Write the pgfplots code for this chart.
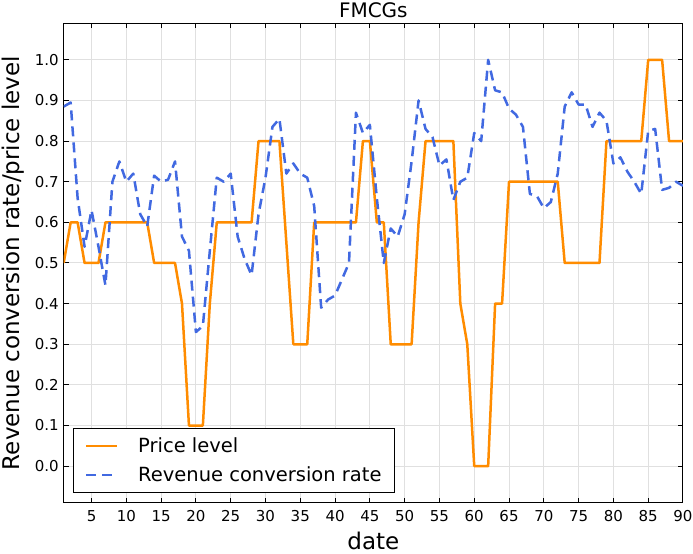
\documentclass[border=0pt]{standalone}
\usepackage{fontspec}
\setmainfont{DejaVu Sans}
\usepackage{pgfplots}
\usepackage{pgfplotstable}
\pgfplotsset{compat=1.18}
\definecolor{porange}{RGB}{255,140,0}
\definecolor{rblue}{RGB}{65,105,225}
\definecolor{gridc}{RGB}{224,224,224}

\pgfplotstableread{
x y
1 0.5
2 0.6
3 0.6
4 0.5
5 0.5
6 0.5
7 0.6
8 0.6
9 0.6
10 0.6
11 0.6
12 0.6
13 0.6
14 0.5
15 0.5
16 0.5
17 0.5
18 0.4
19 0.1
20 0.1
21 0.1
22 0.4
23 0.6
24 0.6
25 0.6
26 0.6
27 0.6
28 0.6
29 0.8
30 0.8
31 0.8
32 0.8
33 0.55
34 0.3
35 0.3
36 0.3
37 0.6
38 0.6
39 0.6
40 0.6
41 0.6
42 0.6
43 0.6
44 0.8
45 0.8
46 0.6
47 0.6
48 0.3
49 0.3
50 0.3
51 0.3
52 0.6
53 0.8
54 0.8
55 0.8
56 0.8
57 0.8
58 0.4
59 0.3
60 0.0
61 0.0
62 0.0
63 0.4
64 0.4
65 0.7
66 0.7
67 0.7
68 0.7
69 0.7
70 0.7
71 0.7
72 0.7
73 0.5
74 0.5
75 0.5
76 0.5
77 0.5
78 0.5
79 0.8
80 0.8
81 0.8
82 0.8
83 0.8
84 0.8
85 1.0
86 1.0
87 1.0
88 0.8
89 0.8
90 0.8
}\pricetable

\pgfplotstableread{
x y
1 0.885
2 0.895
3 0.66
4 0.54
5 0.63
6 0.54
7 0.445
8 0.70
9 0.75
10 0.70
11 0.72
12 0.62
13 0.59
14 0.715
15 0.70
16 0.705
17 0.75
18 0.565
19 0.53
20 0.33
21 0.345
22 0.53
23 0.71
24 0.70
25 0.72
26 0.565
27 0.51
28 0.47
29 0.62
30 0.71
31 0.835
32 0.855
33 0.72
34 0.745
35 0.72
36 0.71
37 0.64
38 0.39
39 0.41
40 0.42
41 0.46
42 0.50
43 0.87
44 0.82
45 0.84
46 0.66
47 0.50
48 0.585
49 0.565
50 0.62
51 0.75
52 0.90
53 0.83
54 0.81
55 0.74
56 0.755
57 0.655
58 0.70
59 0.71
60 0.82
61 0.80
62 1.0
63 0.925
64 0.92
65 0.88
66 0.865
67 0.835
68 0.67
69 0.665
70 0.635
71 0.65
72 0.72
73 0.885
74 0.92
75 0.89
76 0.89
77 0.835
78 0.87
79 0.85
80 0.745
81 0.76
82 0.725
83 0.70
84 0.67
85 0.825
86 0.83
87 0.68
88 0.685
89 0.70
90 0.69
}\revtable

\begin{document}
\begin{tikzpicture}
\useasboundingbox (-63.7bp,-51.3bp) rectangle (629.3bp,502.7bp);
\begin{axis}[
  name=ax,
  at={(0,0)}, anchor=south west,
  scale only axis, width=619.3bp, height=479.4bp,
  xmin=1, xmax=90, ymin=-0.09, ymax=1.09,
  xtick={5,10,15,20,25,30,35,40,45,50,55,60,65,70,75,80,85,90},
  ytick={0,0.1,0.2,0.3,0.4,0.5,0.6,0.7,0.8,0.9,1.0},
  xtick pos=both, ytick pos=both,
  xticklabel pos=left, yticklabel pos=left,
  tick align=inside,
  major tick length=5bp,
  every tick/.style={black, line width=1bp},
  axis line style={black, line width=1bp},
  grid=major,
  major grid style={gridc, line width=1bp},
  /pgf/number format/assume math mode=true,
  yticklabel style={/pgf/number format/fixed, /pgf/number format/fixed zerofill, /pgf/number format/precision=1, font=\fontsize{15bp}{18bp}\selectfont, xshift=-1.4bp},
  xticklabel style={font=\fontsize{15bp}{18bp}\selectfont, yshift=-4bp},
  xlabel={date},
  xlabel style={font=\fontsize{23bp}{27bp}\selectfont, at={(axis description cs:0.5,-0.0800)}, anchor=center},
  ylabel={Revenue conversion rate/price level},
  ylabel style={font=\fontsize{23bp}{27bp}\selectfont, at={(axis description cs:-0.08187,0.5)}, anchor=center},
  legend style={at={(axis description cs:0,0)}, anchor=south west, xshift=9.6bp, yshift=10bp,
    draw=black, line width=1bp, fill=white, inner xsep=0bp, inner ysep=2.7bp,
    font=\fontsize{19.5bp}{23bp}\selectfont, row sep=0bp, column sep=0bp, nodes={inner sep=0bp}},
  legend cell align=left,
  legend image code/.code={\path[draw=none, fill=none] (0bp,-14.5bp) rectangle (64.4bp,14.5bp); \draw[#1] (12.7bp,0bp) -- (43.4bp,0bp);},
]
\addplot[porange, line width=2.5bp, line join=round] table[x=x, y=y] {\pricetable};
\addlegendentry{Price level}
\addplot[rblue, line width=2.5bp, line join=round, dash pattern=on 10bp off 6bp] table[x=x, y=y] {\revtable};
\addlegendentry{Revenue conversion rate\rule{13.4bp}{0pt}}
\end{axis}
\node[anchor=base, inner sep=0pt, yshift=6bp] at (ax.north) {\fontsize{20bp}{24bp}\selectfont FMCGs};
\end{tikzpicture}
\end{document}
